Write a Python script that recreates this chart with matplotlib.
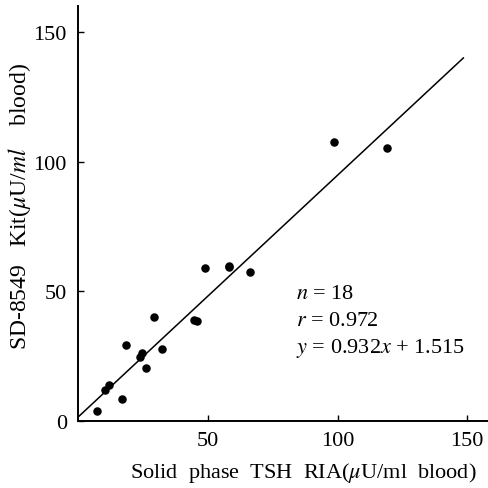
import matplotlib.pyplot as plt
import numpy as np

plt.rcParams['font.family'] = ['Liberation Serif', 'DejaVu Serif']
plt.rcParams['mathtext.fontset'] = 'stix'

# Solid phase TSH RIA vs SD-8549 Kit (18 samples)
ria = [7.3, 10.5, 12.0, 16.9, 18.5, 23.7, 24.5, 26.2, 29.3, 32.3,
       44.5, 45.8, 49.1, 58.2, 58.3, 66.2, 98.5, 119.0]
kit = [4.0, 12.0, 13.7, 8.6, 29.1, 24.5, 26.2, 20.5, 39.9, 27.9,
       39.0, 38.6, 58.8, 59.8, 59.3, 57.6, 107.4, 105.3]

# regression line
slope = 0.932
intercept = 1.515
line_x = [0, 148.5]

fig = plt.figure(figsize=(4.88, 4.89), dpi=100)
ax = fig.add_axes([0.16, 0.137, 0.84, 0.849])

ax.scatter(ria, kit, s=26, color="black", zorder=3)
lx = np.array(line_x)
ax.plot(lx, slope * lx + intercept, color="black", linewidth=1.1)

ax.set_xlim(0, 158)
ax.set_ylim(0, 160)
ax.set_xticks([50, 100, 150])
ax.set_yticks([0, 50, 100, 150])
ax.tick_params(direction="in", length=4, width=1, labelsize=16, colors="black")
ax.tick_params(axis="x", pad=7)
ax.tick_params(axis="y", pad=8)
ax.spines["top"].set_visible(False)
ax.spines["right"].set_visible(False)
ax.spines["left"].set_linewidth(1.4)
ax.spines["bottom"].set_linewidth(1.4)

ax.set_xlabel(r"Solid  phase  TSH  RIA($\mu$U/ml  blood)", fontsize=16, labelpad=4)
ax.set_ylabel(r"SD-8549   Kit($\mu$U/$ml$    blood)", fontsize=17, labelpad=4)
ax.yaxis.set_label_coords(-0.11, 0.52)
ax.xaxis.set_label_coords(0.55, -0.095)

ax.text(84, 49, r"$n$ = 18", fontsize=16, va="center")
ax.text(84, 38.6, r"$r$ = 0.972", fontsize=16, va="center")
ax.text(84, 28.2, r"$y$ = 0.932$x$ + 1.515", fontsize=16, va="center")

plt.savefig("out.png", dpi=100)
